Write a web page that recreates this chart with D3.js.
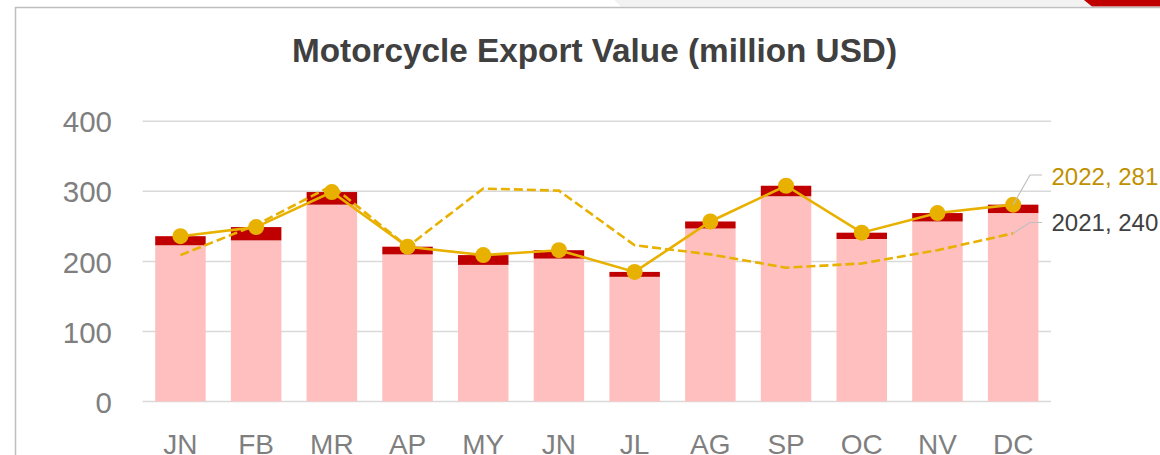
<!DOCTYPE html>
<html>
<head>
<meta charset="utf-8">
<script src="https://cdn.jsdelivr.net/npm/d3@7"></script>
<style>
  html, body { margin: 0; padding: 0; background: #ffffff; }
  svg { display: block; }
</style>
</head>
<body>
<svg id="chart" width="1160" height="455"></svg>
<script>
// ---- data ----
const months = ["JN", "FB", "MR", "AP", "MY", "JN", "JL", "AG", "SP", "OC", "NV", "DC"];
const barBase = [223, 230, 281, 210, 195, 204, 178, 247, 293, 232, 257, 269];
const barTop = [13, 19, 18, 11, 14, 12, 7, 10, 15, 9, 12, 12];
const line2022 = [236, 249, 299, 221, 209, 216, 185, 257, 308, 241, 269, 281];
const line2021 = [209, 252, 308, 221, 304, 301, 223, 210, 191, 197, 216, 240];
const yTicks = [0, 100, 200, 300, 400];
const titleText = "Motorcycle Export Value (million USD)";
const label2022 = "2022, 281";
const label2021 = "2021, 240";

// ---- setup ----
const svg = d3.select("#chart");
const FONT = "'Liberation Sans', Arial, sans-serif";
const gold = "#e8b100";

// frame decorations
svg.append("path")
  .attr("d", "M614,0 L1160,0 L1160,6.5 L621,6.5 Z")
  .attr("fill", "#f2f2f2");
svg.append("path")
  .attr("d", "M1084,0 L1160,0 L1160,6.5 L1092,6.5 Z")
  .attr("fill", "#c00000");
svg.append("line").attr("x1", 15).attr("x2", 1160).attr("y1", 7.5).attr("y2", 7.5)
  .attr("stroke", "#bfbfbf").attr("stroke-width", 1.5);
svg.append("line").attr("x1", 15.5).attr("x2", 15.5).attr("y1", 7).attr("y2", 455)
  .attr("stroke", "#bfbfbf").attr("stroke-width", 1.5);

// scales
const idx = months.map((d, i) => i);
const x = d3.scaleBand().domain(idx).range([142.6, 1051]).paddingInner(1 / 3).paddingOuter(1 / 6);
const y = d3.scaleLinear().domain([0, 400]).range([401.5, 121.3]);
const cx = i => x(i) + x.bandwidth() / 2;

// title
svg.append("text")
  .attr("x", 594.5).attr("y", 62)
  .attr("text-anchor", "middle")
  .attr("font-family", FONT).attr("font-weight", "bold").attr("font-size", 33.3)
  .attr("fill", "#404040")
  .text(titleText);

// gridlines
svg.append("g").selectAll("line").data(yTicks).join("line")
  .attr("x1", 142.6).attr("x2", 1051)
  .attr("y1", d => y(d)).attr("y2", d => y(d))
  .attr("stroke", "#d9d9d9").attr("stroke-width", 1.5);

// y axis labels
const yAxis = d3.axisLeft(y).tickValues(yTicks).tickSize(0).tickPadding(0);
const gy = svg.append("g").attr("transform", "translate(112,0)").call(yAxis);
gy.select(".domain").remove();
gy.selectAll("text")
  .attr("font-family", FONT).attr("font-size", 29.5).attr("fill", "#7f7f7f")
  .attr("dy", "0.36em");

// x axis labels
const xAxis = d3.axisBottom(x).tickFormat(i => months[i]).tickSize(0).tickPadding(0);
const gx = svg.append("g").attr("transform", "translate(0,454)").call(xAxis);
gx.select(".domain").remove();
gx.selectAll("text")
  .attr("font-family", FONT).attr("font-size", 28).attr("fill", "#7f7f7f")
  .attr("dy", 0).attr("y", 0);

// bars
const barsG = svg.append("g");
barsG.selectAll("rect.base").data(idx).join("rect")
  .attr("class", "base")
  .attr("x", i => x(i)).attr("width", x.bandwidth())
  .attr("y", i => y(barBase[i])).attr("height", i => y(0) - y(barBase[i]))
  .attr("fill", "#ffbfbf");
barsG.selectAll("rect.top").data(idx).join("rect")
  .attr("class", "top")
  .attr("x", i => x(i)).attr("width", x.bandwidth())
  .attr("y", i => y(barBase[i] + barTop[i])).attr("height", i => y(barBase[i]) - y(barBase[i] + barTop[i]))
  .attr("fill", "#c00000");

// 2021 dashed line
const line21 = d3.line().x(i => cx(i)).y(i => y(line2021[i]));
svg.append("path")
  .attr("d", line21(idx))
  .attr("fill", "none").attr("stroke", gold).attr("stroke-width", 2.6)
  .attr("stroke-dasharray", "9,4");

// 2022 solid line with markers
const line22 = d3.line().x(i => cx(i)).y(i => y(line2022[i]));
svg.append("path")
  .attr("d", line22(idx))
  .attr("fill", "none").attr("stroke", gold).attr("stroke-width", 2.6);
svg.append("g").selectAll("circle").data(idx).join("circle")
  .attr("cx", i => cx(i)).attr("cy", i => y(line2022[i])).attr("r", 8)
  .attr("fill", gold);

// end labels with leader lines
const last = idx.length - 1;
svg.append("polyline")
  .attr("points", `${cx(last)},${y(line2022[last])} 1030,175 1042,175`)
  .attr("fill", "none").attr("stroke", "#bfbfbf").attr("stroke-width", 1.2);
svg.append("polyline")
  .attr("points", `${cx(last)},${y(line2021[last])} 1030,222.5 1042,222.5`)
  .attr("fill", "none").attr("stroke", "#bfbfbf").attr("stroke-width", 1.2);
svg.append("text")
  .attr("x", 1051.5).attr("y", 184.5)
  .attr("font-family", FONT).attr("font-size", 24).attr("fill", "#bf9000")
  .text(label2022);
svg.append("text")
  .attr("x", 1051.5).attr("y", 231)
  .attr("font-family", FONT).attr("font-size", 24).attr("fill", "#404040")
  .text(label2021);
</script>
</body>
</html>
